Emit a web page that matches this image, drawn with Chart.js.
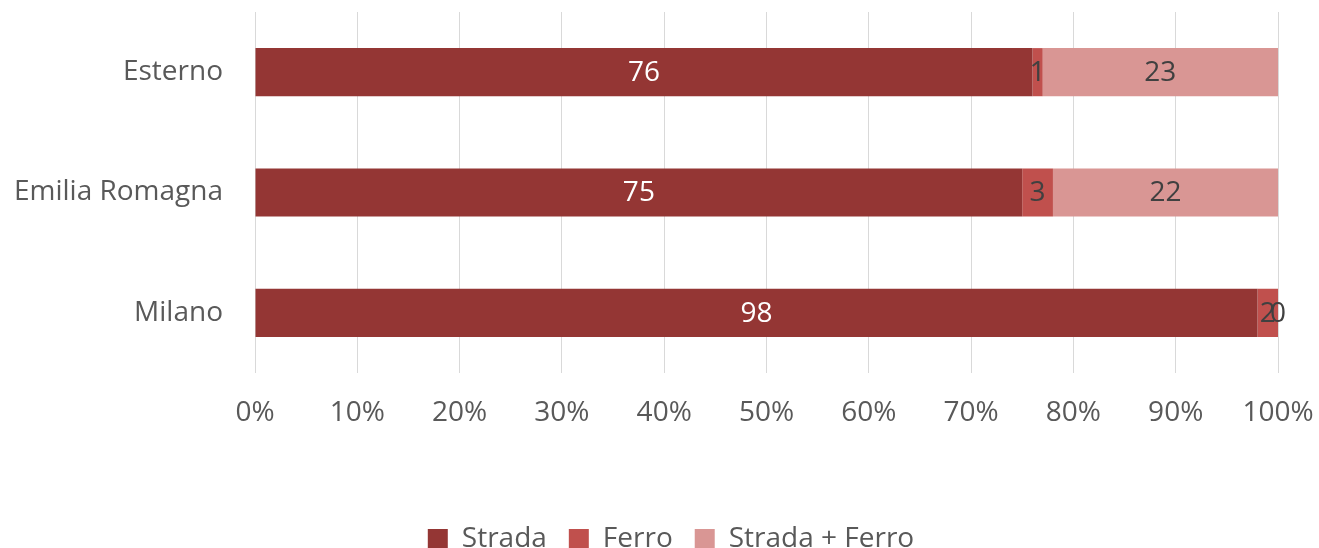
<!DOCTYPE html>
<html>
<head>
<meta charset="utf-8">
<script src="https://cdn.jsdelivr.net/npm/chart.js@4.4.1/dist/chart.umd.min.js"></script>
<style>
  html, body { margin: 0; padding: 0; background: #ffffff; }
  #wrap { width: 1319px; height: 548px; }
</style>
</head>
<body>
<div id="wrap"><canvas id="c" width="1319" height="548"></canvas></div>
<script>
const categories = ["Esterno", "Emilia Romagna", "Milano"];
const strada = [76, 75, 98];
const ferro = [1, 3, 2];
const stradaFerro = [23, 22, 0];
const seriesNames = ["Strada", "Ferro", "Strada + Ferro"];
const xTicks = [0, 10, 20, 30, 40, 50, 60, 70, 80, 90, 100];

const FONT = "'Open Sans', 'DejaVu Sans', sans-serif";

const labelPlugin = {
  id: 'barLabels',
  afterDatasetsDraw(chart) {
    const ctx = chart.ctx;
    ctx.save();
    ctx.font = "28px " + FONT;
    ctx.textAlign = 'center';
    ctx.textBaseline = 'middle';
    chart.data.datasets.forEach((ds, di) => {
      const meta = chart.getDatasetMeta(di);
      meta.data.forEach((bar, i) => {
        const v = ds.data[i];
        const cx = (bar.x + bar.base) / 2;
        ctx.fillStyle = di === 0 ? '#ffffff' : '#404040';
        ctx.fillText(String(v), cx, bar.y + 1);
      });
    });
    ctx.restore();
  }
};

const legendShift = {
  id: 'legendShift',
  afterLayout(chart) {
    if (chart.legend) {
      chart.legend.left += 32;
      chart.legend.right += 32;
    }
  }
};

new Chart(document.getElementById('c'), {
  type: 'bar',
  data: {
    labels: categories,
    datasets: [
      { label: seriesNames[0], data: strada, backgroundColor: '#943634' },
      { label: seriesNames[1], data: ferro, backgroundColor: '#C0504D' },
      { label: seriesNames[2], data: stradaFerro, backgroundColor: '#D99694' }
    ]
  },
  options: {
    indexAxis: 'y',
    responsive: false,
    animation: false,
    devicePixelRatio: 1,
    layout: { padding: { left: 0, right: 41, top: 12, bottom: -15 } },
    datasets: { bar: { barPercentage: 0.8, categoryPercentage: 0.5 } },
    scales: {
      x: {
        stacked: true,
        min: 0,
        max: 100,
        afterBuildTicks(scale) { scale.ticks = xTicks.map(v => ({ value: v })); },
        afterFit(scale) { scale.paddingLeft = 0; scale.paddingRight = 0; scale.height = 130; },
        ticks: {
          callback: v => v + '%',
          color: '#595959',
          font: { family: FONT, size: 28 },
          padding: 23,
          maxRotation: 0
        },
        grid: { color: '#d9d9d9', drawTicks: false, lineWidth: 1 },
        border: { display: false }
      },
      y: {
        stacked: true,
        afterFit(scale) { scale.width = 255; scale.paddingTop = 0; scale.paddingBottom = 0; },
        ticks: {
          color: '#595959',
          font: { family: FONT, size: 28 },
          padding: 32
        },
        grid: { display: false, drawTicks: false },
        border: { display: false }
      }
    },
    plugins: {
      legend: {
        position: 'bottom',
        labels: {
          boxWidth: 20,
          boxHeight: 20,
          padding: 22,
          color: '#595959',
          font: { family: FONT, size: 28 }
        }
      },
      tooltip: { enabled: false }
    }
  },
  plugins: [labelPlugin, legendShift]
});
</script>
</body>
</html>
